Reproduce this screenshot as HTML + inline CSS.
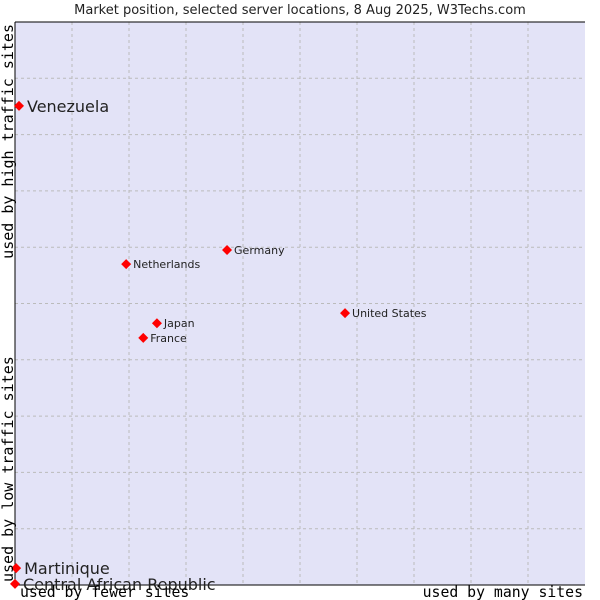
<!DOCTYPE html>
<html><head><meta charset="utf-8"><style>
body{margin:0;background:#fff;}
svg{display:block;font-family:"DejaVu Sans","Liberation Sans",sans-serif;}
</style></head><body>
<svg id="chart" width="600" height="600">
<text x="300" y="14" text-anchor="middle" font-size="13" fill="#222">Market position, selected server locations, 8 Aug 2025, W3Techs.com</text>
<rect x="15" y="22" width="570" height="563" fill="#e3e3f7"/>
<g id="grid"></g>
<line x1="15" y1="22" x2="15" y2="585" stroke="#000"/>
<line x1="15" y1="585" x2="585" y2="585" stroke="#000"/>
<line x1="15" y1="22" x2="585" y2="22" stroke="#000"/>
<g id="points"></g>
<text x="20" y="597" font-family="DejaVu Sans Mono,Liberation Mono,monospace" font-size="14.8" fill="#000">used by fewer sites</text>
<text x="583" y="597" text-anchor="end" font-family="DejaVu Sans Mono,Liberation Mono,monospace" font-size="14.8" fill="#000">used by many sites</text>
<text transform="translate(13,582) rotate(-90)" font-family="DejaVu Sans Mono,Liberation Mono,monospace" font-size="15" fill="#000">used by low traffic sites</text>
<text transform="translate(13,24) rotate(-90)" text-anchor="end" font-family="DejaVu Sans Mono,Liberation Mono,monospace" font-size="15" fill="#000">used by high traffic sites</text>
</svg>
<script>
const names = ["Venezuela","Netherlands","Germany","Japan","France","United States","Martinique","Central African Republic"];
const xValues = [0.7,19.5,37.2,24.9,22.5,57.9,0.2,0];
const yValues = [85.1,57.0,59.5,46.5,43.9,48.3,3.0,0.2];
const bigLabel = [true,false,false,false,false,false,true,true];
const gridTicks = [10,20,30,40,50,60,70,80,90];
const NS="http://www.w3.org/2000/svg";
const X0=15,X1=585,Y0=585,Y1=22;
function sx(v){return X0+v/100*(X1-X0);}
function sy(v){return Y0-v/100*(Y0-Y1);}
const grid=document.getElementById('grid');
gridTicks.forEach(t=>{
  const v=document.createElementNS(NS,'line');
  v.setAttribute('x1',sx(t));v.setAttribute('x2',sx(t));v.setAttribute('y1',Y1);v.setAttribute('y2',Y0);
  v.setAttribute('stroke','#bbb');v.setAttribute('stroke-dasharray','3,3');
  
  
  grid.appendChild(v);
  const h=document.createElementNS(NS,'line');
  h.setAttribute('y1',sy(t));h.setAttribute('y2',sy(t));h.setAttribute('x1',X0);h.setAttribute('x2',X1);
  h.setAttribute('stroke','#bbb');h.setAttribute('stroke-dasharray','3,3');
  
  
  grid.appendChild(h);
});
const pts=document.getElementById('points');
names.forEach((n,i)=>{
  const x=sx(xValues[i]),y=sy(yValues[i]);
  const d=document.createElementNS(NS,'path');
  d.setAttribute('d',`M${x-5},${y}L${x},${y-5}L${x+5},${y}L${x},${y+5}Z`);
  d.setAttribute('fill','#f00');
  
  
  pts.appendChild(d);
  const t=document.createElementNS(NS,'text');
  const big=bigLabel[i];
  t.setAttribute('x',x+(big?8:7));t.setAttribute('y',y+(big?6:4));
  t.setAttribute('font-size',big?16:11);
  t.setAttribute('fill','#222');
  t.textContent=n;
  
  
  pts.appendChild(t);
});
</script>
</body></html>
